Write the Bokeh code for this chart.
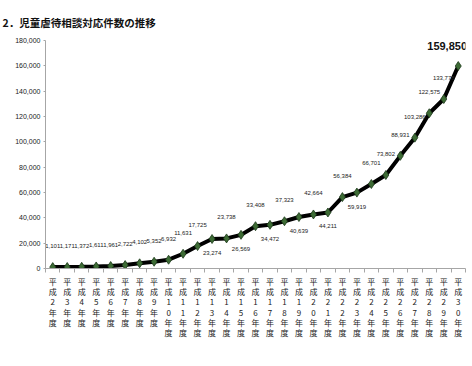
from bokeh.plotting import figure
from bokeh.models import ColumnDataSource, FixedTicker, NumeralTickFormatter, Label, Range1d
from bokeh.core.properties import value
from bokeh.embed import file_html
from bokeh.resources import INLINE

title_text = "2．児童虐待相談対応件数の推移"
categories = ["平成2年度", "平成3年度", "平成4年度", "平成5年度", "平成6年度", "平成7年度",
              "平成8年度", "平成9年度", "平成10年度", "平成11年度", "平成12年度", "平成13年度",
              "平成14年度", "平成15年度", "平成16年度", "平成17年度", "平成18年度", "平成19年度",
              "平成20年度", "平成21年度", "平成22年度", "平成23年度", "平成24年度", "平成25年度",
              "平成26年度", "平成27年度", "平成28年度", "平成29年度", "平成30年度"]
cases = [1101, 1171, 1372, 1611, 1961, 2722, 4102, 5352, 6932, 11631, 17725, 23274,
         23738, 26569, 33408, 34472, 37323, 40639, 42664, 44211, 56384, 59919, 66701,
         73802, 88931, 103286, 122575, 133778, 159850]
label_side = ["a", "a", "a", "a", "a", "a", "a", "a", "a", "a", "a", "b",
              "a", "b", "a", "b", "a", "b", "a", "b", "a", "b", "a",
              "a", "a", "a", "a", "a", "last"]
last_note = "（速報値）"
y_ticks = [0, 20000, 40000, 60000, 80000, 100000, 120000, 140000, 160000, 180000]

LAT = "Liberation Sans"
JP = "Noto Sans CJK JP"

xs = list(range(len(categories)))
src = ColumnDataSource(dict(x=xs, y=cases))

lab_x, lab_y, lab_t, lab_dy = [], [], [], []
for i, (v, s) in enumerate(zip(cases, label_side)):
    if s == "last":
        continue
    lab_x.append(i)
    lab_y.append(v)
    lab_t.append(f"{v:,}")
    lab_dy.append(-21 if s == "a" else 14)
lab_src = ColumnDataSource(dict(x=lab_x, y=lab_y, t=lab_t, dy=lab_dy))

p = figure(width=472, height=366, output_backend="svg", toolbar_location=None,
           x_range=Range1d(-0.5, len(categories) - 0.5), y_range=Range1d(0, 180000),
           min_border_left=45, min_border_right=7, min_border_top=40, min_border_bottom=98,
           title=title_text)
p.outline_line_color = None
p.grid.visible = False
p.background_fill_color = "white"
p.border_fill_color = "white"

p.title.align = "left"
p.title.vertical_align = "top"
p.title.offset = -43
p.title.standoff = 18
p.title.text_font = JP
p.title.text_font_size = "10.5px"
p.title.text_font_style = "bold"
p.title.text_color = "#111111"

p.line("x", "y", source=src, line_color="black", line_width=4)
p.scatter("x", "y", source=src, marker="diamond", size=9, fill_color="#3d6b35",
          line_color="#1d3a1a", line_width=0.8)

p.text("x", "y", text="t", source=lab_src, y_offset="dy", text_align="center",
       text_baseline="middle", text_font=value(LAT), text_font_size="6px",
       text_color="#222222")

i_last = len(cases) - 1
p.add_layout(Label(x=i_last, y=cases[i_last], text=f"{cases[i_last]:,}{last_note}",
                   x_offset=-31, y_offset=20, text_align="left", text_baseline="middle",
                   text_font=LAT, text_font_size="11px", text_font_style="bold",
                   text_color="#111111"))

# y axis
p.yaxis.ticker = FixedTicker(ticks=y_ticks, minor_ticks=[])
p.yaxis.formatter = NumeralTickFormatter(format="0,0")
p.yaxis.axis_line_color = "#a6a6a6"
p.yaxis.major_tick_line_color = "#a6a6a6"
p.yaxis.major_tick_out = 2
p.yaxis.major_tick_in = 0
p.yaxis.minor_tick_line_color = None
p.yaxis.major_label_standoff = 3
p.yaxis.major_label_text_font = LAT
p.yaxis.major_label_text_font_size = "7px"
p.yaxis.major_label_text_color = "#222222"

# x axis
p.xaxis.ticker = FixedTicker(ticks=xs, minor_ticks=[i - 0.5 for i in range(len(categories) + 1)])
p.xaxis.major_label_overrides = {i: "\n".join(c) for i, c in enumerate(categories)}
p.xaxis.axis_line_color = "#a6a6a6"
p.xaxis.major_tick_line_color = None
p.xaxis.major_tick_out = 0
p.xaxis.major_tick_in = 0
p.xaxis.minor_tick_line_color = "#a6a6a6"
p.xaxis.minor_tick_out = 4
p.xaxis.minor_tick_in = 0
p.xaxis.major_label_standoff = 3
p.xaxis.major_label_text_font = JP
p.xaxis.major_label_text_font_size = "8px"
p.xaxis.major_label_text_line_height = 0.94
p.xaxis.major_label_text_color = "#222222"

open("out.html", "w").write(file_html(p, INLINE))
